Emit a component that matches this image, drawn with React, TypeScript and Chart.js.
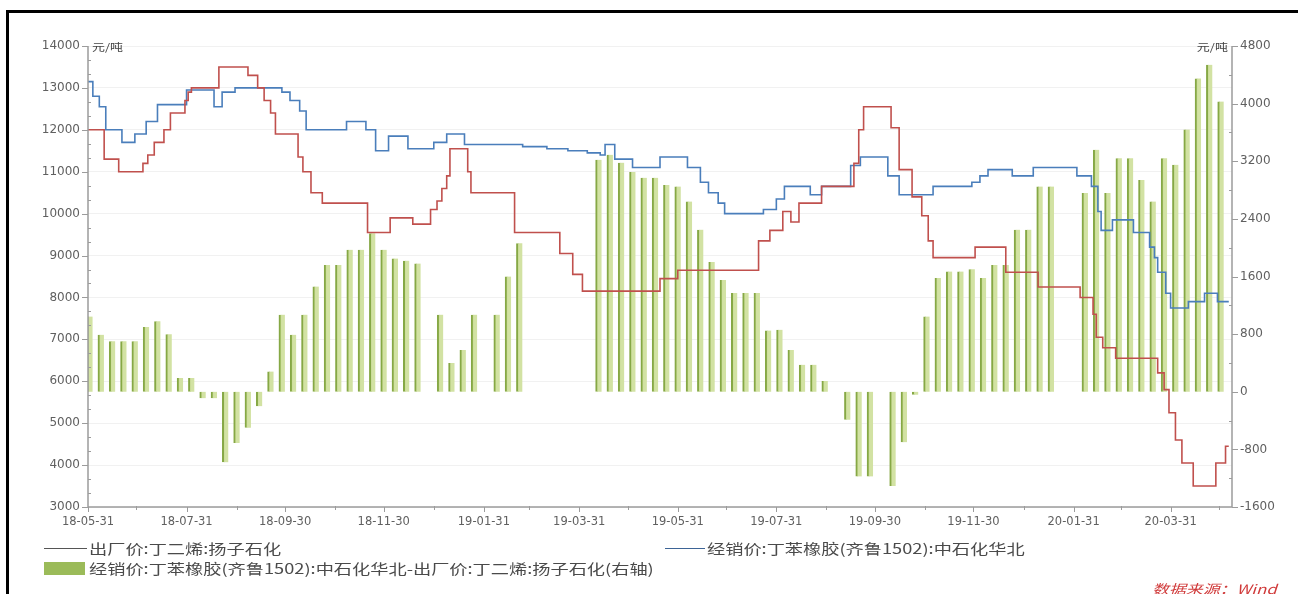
import React, { useEffect, useRef } from "react";
import { Chart, registerables } from "chart.js";

Chart.register(...registerables);

// ---------- data ----------
const BASE_DATE = "2018-05-31";
const X_MAX_DATE = "2020-05-08";

const xLabelDates = [
  "2018-05-31", "2018-07-31", "2018-09-30", "2018-11-30", "2019-01-31", "2019-03-31",
  "2019-05-31", "2019-07-31", "2019-09-30", "2019-11-30", "2020-01-31", "2020-03-31",
];
const xMinorDates = [
  "2018-06-30", "2018-08-31", "2018-10-31", "2018-12-31", "2019-02-28", "2019-04-30",
  "2019-06-30", "2019-08-31", "2019-10-31", "2019-12-31", "2020-02-29", "2020-04-30",
];

const leftMin = 3000;
const leftMax = 14000;
const leftStep = 1000;
const rightMin = -1600;
const rightMax = 4800;
const rightStep = 800;

// 出厂价:丁二烯:扬子石化 (change points)
const redDates = [
  "2018-05-31", "2018-06-10", "2018-06-19", "2018-07-04", "2018-07-07", "2018-07-11", "2018-07-17",
  "2018-07-21", "2018-07-30", "2018-08-01", "2018-08-03", "2018-08-20", "2018-09-07", "2018-09-13",
  "2018-09-17", "2018-09-21", "2018-09-24", "2018-10-08", "2018-10-11", "2018-10-16", "2018-10-23",
  "2018-11-20", "2018-12-04", "2018-12-18", "2018-12-29", "2019-01-02", "2019-01-05", "2019-01-08",
  "2019-01-10", "2019-01-21", "2019-01-23", "2019-02-19", "2019-03-19", "2019-03-27", "2019-04-02",
  "2019-05-20", "2019-05-31", "2019-07-20", "2019-07-27", "2019-08-04", "2019-08-09", "2019-08-14",
  "2019-08-28", "2019-09-17", "2019-09-20", "2019-09-23", "2019-10-10", "2019-10-15", "2019-10-23",
  "2019-10-29", "2019-11-02", "2019-11-05", "2019-12-01", "2019-12-20", "2020-01-09", "2020-02-04",
  "2020-02-12", "2020-02-14", "2020-02-18", "2020-02-26", "2020-03-23", "2020-03-27", "2020-03-30",
  "2020-04-03", "2020-04-07", "2020-04-14", "2020-04-28", "2020-05-04", "2020-05-06",
];
const redValues = [
  12000, 11300, 11000, 11200, 11400, 11700, 12000,
  12400, 12700, 12900, 13000, 13500, 13300, 13000,
  12700, 12400, 11900, 11350, 11000, 10500, 10250,
  9550, 9900, 9750, 10100, 10300, 10600, 10900,
  11550, 11000, 10500, 9550, 9050, 8550, 8150,
  8450, 8650, 9350, 9600, 10050, 9800, 10250,
  10650, 11200, 12000, 12550, 12050, 11050, 10400,
  9950, 9350, 8950, 9200, 8600, 8250, 8000,
  7600, 7050, 6800, 6550, 6200, 5800, 5250,
  4600, 4050, 3500, 4050, 4450, 4450,
];

// 经销价:丁苯橡胶(齐鲁1502):中石化华北 (change points)
const blueDates = [
  "2018-05-31", "2018-06-03", "2018-06-07", "2018-06-11", "2018-06-21", "2018-06-29", "2018-07-06",
  "2018-07-13", "2018-07-31", "2018-08-17", "2018-08-22", "2018-08-30", "2018-09-28", "2018-10-03",
  "2018-10-09", "2018-10-13", "2018-11-07", "2018-11-19", "2018-11-25", "2018-12-03", "2018-12-15",
  "2018-12-31", "2019-01-08", "2019-01-19", "2019-02-24", "2019-03-11", "2019-03-24", "2019-04-05",
  "2019-04-13", "2019-04-16", "2019-04-22", "2019-05-03", "2019-05-20", "2019-06-06", "2019-06-14",
  "2019-06-19", "2019-06-25", "2019-06-29", "2019-07-23", "2019-07-31", "2019-08-05", "2019-08-21",
  "2019-08-28", "2019-09-15", "2019-09-21", "2019-10-08", "2019-10-15", "2019-11-05", "2019-11-29",
  "2019-12-04", "2019-12-09", "2019-12-24", "2020-01-06", "2020-02-02", "2020-02-11", "2020-02-15",
  "2020-02-17", "2020-02-24", "2020-03-08", "2020-03-18", "2020-03-21", "2020-03-23", "2020-03-28",
  "2020-03-31", "2020-04-11", "2020-04-21", "2020-04-29", "2020-05-06",
];
const blueValues = [
  13150, 12800, 12550, 12000, 11700, 11900, 12200,
  12600, 12950, 12550, 12900, 13000, 12900, 12700,
  12450, 12000, 12200, 12000, 11500, 11850, 11550,
  11700, 11900, 11650, 11600, 11550, 11500, 11450,
  11400, 11650, 11300, 11100, 11350, 11100, 10750,
  10500, 10250, 10000, 10100, 10350, 10650, 10450,
  10650, 11150, 11350, 10900, 10450, 10650, 10750,
  10900, 11050, 10900, 11100, 10900, 10650, 10050,
  9600, 9850, 9550, 9200, 8950, 8600, 8100,
  7750, 7900, 8100, 7900, 7900,
];

// 价差 (右轴), weekly from spreadStart
const spreadStart = "2018-06-01";
const spreadValues: (number | null)[] = [
  1045, 790, 700, 700, 700, 900, 980, 800, 190, 190,
  -90, -90, -980, -710, -500, -200, 280, 1070, 790, 1070,
  1460, 1760, 1760, 1970, 1970, 2200, 1970, 1850, 1820, 1780,
  null, 1070, 400, 580, 1070, null, 1070, 1600, 2060, null,
  null, null, null, null, null, 3220, 3290, 3180, 3050, 2970,
  2970, 2870, 2850, 2640, 2250, 1800, 1550, 1370, 1370, 1370,
  850, 860, 580, 375, 375, 150, null, -390, -1175, -1175,
  null, -1310, -700, -40, 1045, 1580, 1670, 1670, 1700, 1580,
  1760, 1760, 2250, 2250, 2850, 2850, null, null, 2760, 3360,
  2760, 3240, 3240, 2940, 2640, 3240, 3150, 3640, 4350, 4540,
  4030,
];

const redLabel = "出厂价:丁二烯:扬子石化";
const blueLabel = "经销价:丁苯橡胶(齐鲁1502):中石化华北";
const spreadLabel = "经销价:丁苯橡胶(齐鲁1502):中石化华北-出厂价:丁二烯:扬子石化(右轴)";
const unitLabel = "元/吨";
const sourceLabel = "数据来源：Wind";

// ---------- helpers ----------
function dayOf(s: string): number {
  const [y, m, d] = s.split("-").map(Number);
  const [by, bm, bd] = BASE_DATE.split("-").map(Number);
  return Math.round((Date.UTC(y, m - 1, d) - Date.UTC(by, bm - 1, bd)) / 86400000);
}

const RED = "#c0504d";
const BLUE = "#4a7ebb";
const AXIS = "#9c9c9c";
const Y_FONT = { family: "DejaVu Sans", size: 12 };
const X_FONT = { family: "DejaVu Sans", size: 11.5 };
const TICK_COLOR = "#606060";

const axesPlugin = {
  id: "axesDeco",
  afterDatasetsDraw(chart: any) {
    const { ctx, chartArea: a, scales } = chart;
    const yl = scales.y;
    const yr = scales.y1;
    const xs = scales.x;
    ctx.save();
    ctx.strokeStyle = AXIS;
    ctx.lineWidth = 1.5;
    ctx.beginPath();
    ctx.moveTo(a.left, a.top);
    ctx.lineTo(a.left, a.bottom);
    ctx.moveTo(a.right, a.top);
    ctx.lineTo(a.right, a.bottom);
    ctx.moveTo(a.left, a.bottom);
    ctx.lineTo(a.right, a.bottom);
    ctx.stroke();
    ctx.lineWidth = 1;
    ctx.beginPath();
    for (let v = leftMin; v <= leftMax; v += leftStep) {
      const y = Math.round(yl.getPixelForValue(v)) + 0.5;
      ctx.moveTo(a.left - 6, y);
      ctx.lineTo(a.left, y);
      if (v < leftMax) {
        for (let j = 1; j < 3; j++) {
          const ym = Math.round(yl.getPixelForValue(v + (leftStep * j) / 3)) + 0.5;
          ctx.moveTo(a.left, ym);
          ctx.lineTo(a.left + 3, ym);
        }
      }
    }
    for (let v = rightMin; v <= rightMax; v += rightStep) {
      const y = Math.round(yr.getPixelForValue(v)) + 0.5;
      ctx.moveTo(a.right, y);
      ctx.lineTo(a.right + 6, y);
      if (v < rightMax) {
        const ym = Math.round(yr.getPixelForValue(v + rightStep / 2)) + 0.5;
        ctx.moveTo(a.right - 3, ym);
        ctx.lineTo(a.right, ym);
      }
    }
    xLabelDates.forEach((d) => {
      const x = Math.round(xs.getPixelForValue(dayOf(d))) + 0.5;
      ctx.moveTo(x, a.bottom);
      ctx.lineTo(x, a.bottom + 5);
    });
    xMinorDates.forEach((d) => {
      const x = Math.round(xs.getPixelForValue(dayOf(d))) + 0.5;
      ctx.moveTo(x, a.bottom - 1);
      ctx.lineTo(x, a.bottom + 3);
    });
    ctx.stroke();
    ctx.restore();
  },
};

const cjk = '"Noto Sans CJK SC", "DejaVu Sans", sans-serif';

function Stretch(props: { left: number; cy: number; text: string; size: number; sx: number; color?: string; italic?: boolean; right?: boolean }) {
  const h = props.size + 6;
  const style: React.CSSProperties = {
    position: "absolute",
    top: props.cy - h / 2,
    height: h,
    lineHeight: h + "px",
    fontSize: props.size,
    fontFamily: cjk,
    color: props.color || "#4a4a4a",
    fontStyle: props.italic ? "italic" : "normal",
    whiteSpace: "nowrap",
    transform: `scaleX(${props.sx})`,
    transformOrigin: props.right ? "right center" : "left center",
  };
  if (props.right) style.right = 1298 - props.left;
  else style.left = props.left;
  return <div style={style}>{props.text}</div>;
}

export default function App() {
  const ref = useRef<HTMLCanvasElement>(null);

  useEffect(() => {
    const canvas = ref.current;
    if (!canvas) return;
    const spreadDay0 = dayOf(spreadStart);
    const chart = new Chart(canvas, {
      type: "bar",
      data: {
        datasets: [
          {
            type: "line",
            label: redLabel,
            data: redDates.map((d, i) => ({ x: dayOf(d), y: redValues[i] })),
            borderColor: RED,
            borderWidth: 1.6,
            pointRadius: 0,
            stepped: "before",
            yAxisID: "y",
            order: 1,
          } as any,
          {
            type: "line",
            label: blueLabel,
            data: blueDates.map((d, i) => ({ x: dayOf(d), y: blueValues[i] })),
            borderColor: BLUE,
            borderWidth: 1.6,
            pointRadius: 0,
            stepped: "before",
            yAxisID: "y",
            order: 2,
          } as any,
          {
            type: "bar",
            label: spreadLabel,
            data: spreadValues.map((v, i) => ({ x: spreadDay0 + 7 * i, y: v })),
            backgroundColor: "rgba(208, 224, 158, 0.95)",
            borderColor: "#86a845",
            borderWidth: { left: 2, right: 0, top: 0, bottom: 0 },
            borderSkipped: false,
            barThickness: 6,
            yAxisID: "y1",
            order: 3,
          } as any,
        ],
      },
      options: {
        animation: false,
        responsive: false,
        maintainAspectRatio: false,
        devicePixelRatio: 1,
        layout: { padding: { top: 46, bottom: 57, left: 0, right: 0 } },
        plugins: { legend: { display: false }, tooltip: { enabled: false } },
        scales: {
          x: {
            type: "linear",
            min: 0,
            max: dayOf(X_MAX_DATE),
            offset: false,
            grid: { display: false, drawTicks: false },
            border: { display: false },
            afterBuildTicks: (s: any) => {
              s.ticks = xLabelDates.map((d) => ({ value: dayOf(d) }));
            },
            afterFit: (s: any) => {
              s.height = 30;
            },
            ticks: {
              autoSkip: false,
              maxRotation: 0,
              minRotation: 0,
              padding: 8,
              color: TICK_COLOR,
              font: X_FONT,
              callback: (v: any) => {
                const d = xLabelDates.find((s) => dayOf(s) === v);
                return d ? d.slice(2) : "";
              },
            },
          },
          y: {
            type: "linear",
            position: "left",
            min: leftMin,
            max: leftMax,
            grid: { color: "#f1f1f1", drawTicks: false },
            border: { display: false },
            afterFit: (s: any) => {
              s.width = 88;
            },
            ticks: {
              stepSize: leftStep,
              padding: 8,
              color: TICK_COLOR,
              font: Y_FONT,
              callback: (v: any) => String(v),
            },
          },
          y1: {
            type: "linear",
            position: "right",
            min: rightMin,
            max: rightMax,
            grid: { display: false, drawTicks: false },
            border: { display: false },
            afterFit: (s: any) => {
              s.width = 66;
            },
            ticks: {
              stepSize: rightStep,
              padding: 8,
              color: TICK_COLOR,
              font: Y_FONT,
              callback: (v: any) => String(v),
            },
          },
        },
      } as any,
      plugins: [axesPlugin],
    });
    return () => chart.destroy();
  }, []);

  return (
    <div style={{ position: "fixed", left: 0, top: 0, width: 1298, height: 594, background: "#fff", overflow: "hidden" }}>
      <canvas ref={ref} width={1298} height={594} style={{ position: "absolute", left: 0, top: 0, width: 1298, height: 594 }} />
      <div style={{ position: "absolute", left: 6, top: 10, width: 1300, height: 600, borderLeft: "3px solid #000", borderTop: "3px solid #000", pointerEvents: "none" }} />
      <Stretch left={92} cy={47} text={unitLabel} size={10} sx={1.3} color="#444" />
      <Stretch left={1228} cy={47} text={unitLabel} size={10} sx={1.3} color="#444" right />
      <div style={{ position: "absolute", left: 44, top: 548, width: 43, height: 0, borderTop: "1.5px solid #555" }} />
      <Stretch left={89} cy={548} text={redLabel} size={14} sx={1.3} />
      <div style={{ position: "absolute", left: 665, top: 548, width: 40, height: 0, borderTop: "1.5px solid #3d6496" }} />
      <Stretch left={707} cy={548} text={blueLabel} size={14} sx={1.3} />
      <div style={{ position: "absolute", left: 44, top: 562, width: 41, height: 13, background: "#9bbb59" }} />
      <Stretch left={89} cy={568} text={spreadLabel} size={14} sx={1.3} />
      <Stretch left={1152} cy={588} text={sourceLabel} size={13} sx={1.3} color="#d03a3a" italic />
    </div>
  );
}
